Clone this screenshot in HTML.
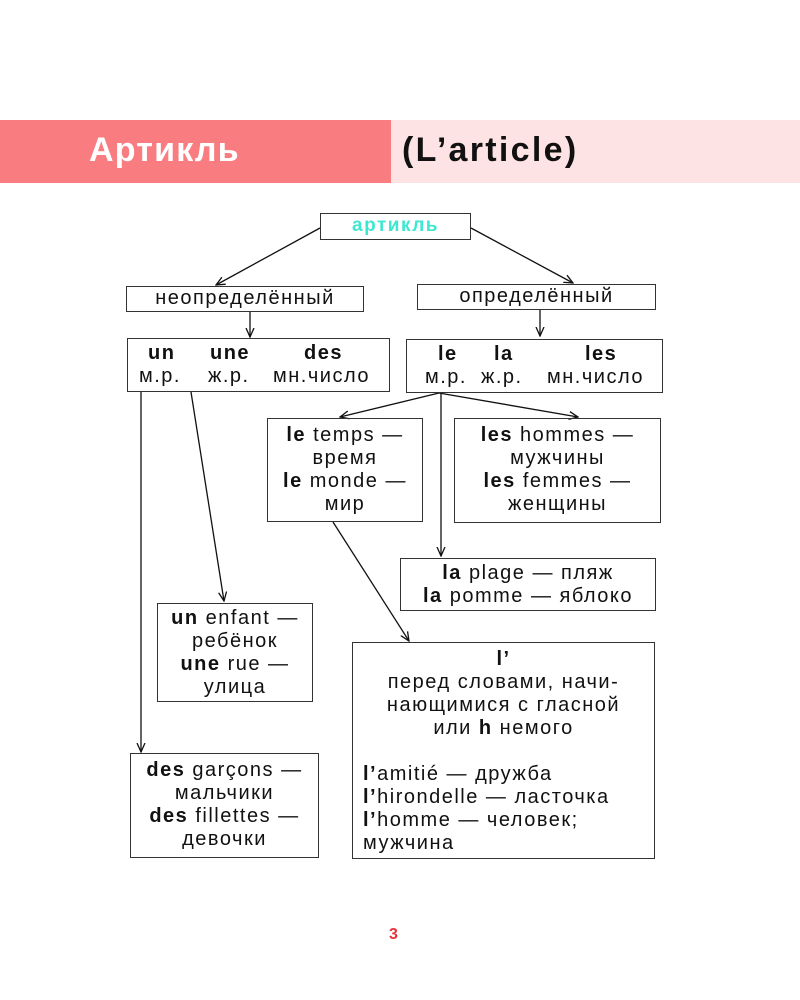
<!DOCTYPE html>
<html><head><meta charset="utf-8"><style>
body{margin:0;width:800px;height:1000px;background:#fff;position:relative;font-family:"Liberation Sans",sans-serif;overflow:hidden}
.b{position:absolute;border:1.5px solid #333;box-sizing:border-box;font-size:20px;letter-spacing:1.5px;line-height:23px;text-align:center;color:#111;white-space:nowrap}
b{font-weight:bold}
</style></head><body>
<div style="position:absolute;left:0;top:120px;width:391px;height:63px;background:#f87c80"></div>
<div style="position:absolute;left:391px;top:120px;width:409px;height:63px;background:#fde3e4"></div>
<div style="position:absolute;left:89px;top:131px;font-size:34px;letter-spacing:1.2px;font-weight:bold;color:#fff">Артикль</div>
<div style="position:absolute;left:402px;top:131px;font-size:34px;letter-spacing:2.3px;font-weight:bold;color:#111">(L’article)</div>
<svg style="position:absolute;left:0;top:0" width="800" height="1000">
<defs><marker id="a" markerWidth="10" markerHeight="10" refX="9" refY="5" orient="auto" markerUnits="userSpaceOnUse"><path d="M0,1 L9,5 L0,9" fill="none" stroke="#111" stroke-width="1.3"/></marker></defs>
<g stroke="#111" stroke-width="1.3" fill="none" marker-end="url(#a)">
<line x1="320" y1="228" x2="216" y2="285"/>
<line x1="471" y1="228" x2="573" y2="283"/>
<line x1="250" y1="312" x2="250" y2="337"/>
<line x1="540" y1="310" x2="540" y2="336"/>
<line x1="141" y1="392" x2="141" y2="752"/>
<line x1="191" y1="392" x2="224" y2="601"/>
<line x1="439" y1="393" x2="340" y2="417"/>
<line x1="441" y1="393" x2="441" y2="556"/>
<line x1="439" y1="393" x2="578" y2="417"/>
<line x1="333" y1="522" x2="409" y2="641"/>
</g></svg>
<div class="b" style="left:320px;top:213px;width:151px;height:27px;line-height:24px;color:#3ee8d0;font-weight:bold;font-size:19px">артикль</div>
<div class="b" style="left:126px;top:286px;width:238px;height:26px;line-height:23px">неопределённый</div>
<div class="b" style="left:417px;top:284px;width:239px;height:26px;line-height:23px">определённый</div>
<div class="b" style="left:127px;top:338px;width:263px;height:54px">
<div style="position:absolute;left:20px;top:3px"><b>un</b></div><div style="position:absolute;left:82px;top:3px"><b>une</b></div><div style="position:absolute;left:176px;top:3px"><b>des</b></div>
<div style="position:absolute;left:11px;top:26px">м.р.</div><div style="position:absolute;left:80px;top:26px">ж.р.</div><div style="position:absolute;left:145px;top:26px">мн.число</div></div>
<div class="b" style="left:406px;top:339px;width:257px;height:54px">
<div style="position:absolute;left:31px;top:3px"><b>le</b></div><div style="position:absolute;left:87px;top:3px"><b>la</b></div><div style="position:absolute;left:178px;top:3px"><b>les</b></div>
<div style="position:absolute;left:18px;top:26px">м.р.</div><div style="position:absolute;left:74px;top:26px">ж.р.</div><div style="position:absolute;left:140px;top:26px">мн.число</div></div>
<div class="b" style="left:267px;top:418px;width:156px;height:104px;padding-top:5px"><b>le</b> temps —<br>время<br><b>le</b> monde —<br>мир</div>
<div class="b" style="left:454px;top:418px;width:207px;height:105px;padding-top:5px"><b>les</b> hommes —<br>мужчины<br><b>les</b> femmes —<br>женщины</div>
<div class="b" style="left:400px;top:558px;width:256px;height:53px;padding-top:3px"><b>la</b> plage — пляж<br><b>la</b> pomme — яблоко</div>
<div class="b" style="left:157px;top:603px;width:156px;height:99px;padding-top:3px"><b>un</b> enfant —<br>ребёнок<br><b>une</b> rue —<br>улица</div>
<div class="b" style="left:352px;top:642px;width:303px;height:217px;padding-top:5px"><b>l’</b><br>перед словами, начи-<br>нающимися с гласной<br>или <b>h</b> немого<br><br><div style="text-align:left;padding-left:10px"><b>l’</b>amitié — дружба<br><b>l’</b>hirondelle — ласточка<br><b>l’</b>homme — человек;<br>мужчина</div></div>
<div class="b" style="left:130px;top:753px;width:189px;height:105px;padding-top:5px"><b>des</b> garçons —<br>мальчики<br><b>des</b> fillettes —<br>девочки</div>
<div style="position:absolute;left:389px;top:926px;font-size:16px;font-weight:bold;color:#e8333a">3</div>
</body></html>
